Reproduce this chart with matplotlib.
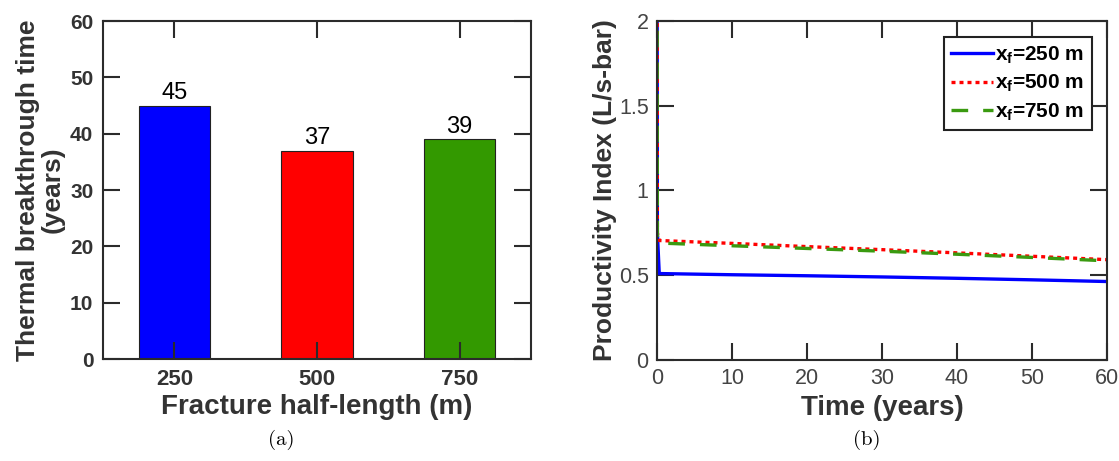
import matplotlib
matplotlib.use("Agg")
import matplotlib.pyplot as plt

plt.rcParams['mathtext.fontset'] = 'custom'
plt.rcParams['mathtext.it'] = 'Liberation Sans:bold'
plt.rcParams['mathtext.rm'] = 'Liberation Sans:bold'
plt.rcParams['mathtext.bf'] = 'Liberation Sans:bold'

# ---- data ----
categories = ['250', '500', '750']
breakthrough = [45, 37, 39]
bar_colors = ['#0000FF', '#FF0000', '#339900']

time = [0, 0.05, 0.3, 10, 20, 30, 40, 50, 60]
pi_250 = [3.0, 0.75, 0.51, 0.503, 0.497, 0.490, 0.482, 0.473, 0.463]
pi_500 = [3.0, 0.75, 0.705, 0.688, 0.669, 0.651, 0.632, 0.612, 0.592]
pi_750 = [3.0, 0.73, 0.690, 0.674, 0.658, 0.642, 0.624, 0.605, 0.585]
series_labels = [r'$x_f$=250 m', r'$x_f$=500 m', r'$x_f$=750 m']

fig = plt.figure(figsize=(11.19, 4.61), dpi=100)
spine_col = '#2b2b2b'
txt_col = '#333333'

# ---- (a) bar chart ----
ax1 = fig.add_axes([103/1119, 1-359/461, (531-103)/1119, (359-21)/461])
x = list(range(1, len(categories)+1))
ax1.bar(x, breakthrough, width=0.5, color=bar_colors, edgecolor='#222222', linewidth=0.8)
for xi, v in zip(x, breakthrough):
    ax1.text(xi, v + 0.3, str(v), ha='center', va='bottom', fontsize=17, family='Liberation Sans')
ax1.set_xlim(0.5, 3.5)
ax1.set_ylim(0, 60)
ax1.set_xticks(x)
ax1.set_xticklabels(categories)
ax1.set_yticks(range(0, 61, 10))
ax1.tick_params(direction='in', length=12, width=1.5, top=True, right=True, color=spine_col,
                labelsize=15, pad=7)
for lab in ax1.get_xticklabels():
    lab.set_fontsize(16)
for lab in ax1.get_xticklabels() + ax1.get_yticklabels():
    lab.set_fontweight('bold'); lab.set_family('Liberation Sans'); lab.set_color(txt_col)
for s in ax1.spines.values():
    s.set_linewidth(1.5); s.set_color(spine_col)
ax1.set_xlabel('Fracture half-length (m)', fontsize=20, fontweight='bold', family='Liberation Sans',
               color=txt_col, labelpad=3)
ax1.set_ylabel('Thermal breakthrough time\n(years)', fontsize=19, fontweight='bold',
               family='Liberation Sans', color=txt_col, linespacing=1.0, labelpad=4)

# ---- (b) line chart ----
ax2 = fig.add_axes([657/1119, 1-360/461, (1107-657)/1119, (360-21)/461])
ax2.plot(time, pi_250, color='#0000FF', lw=2.4, ls='-', label=series_labels[0])
ax2.plot(time, pi_500, color='#FF0000', lw=2.4, ls=(0, (1.2, 1.2)), label=series_labels[1])
ax2.plot(time, pi_750, color='#3a9a10', lw=2.4, ls=(0, (5, 4.5)), label=series_labels[2])
ax2.set_xlim(0, 60)
ax2.set_ylim(0, 2)
ax2.set_xticks(range(0, 61, 10))
ax2.set_yticks([0, 0.5, 1, 1.5, 2])
ax2.set_yticklabels(['0', '0.5', '1', '1.5', '2'])
ax2.tick_params(direction='in', length=12, width=1.5, top=True, right=True, color=spine_col,
                labelsize=15.5, pad=6, labelcolor='#444444')
for lab in ax2.get_xticklabels() + ax2.get_yticklabels():
    lab.set_family('Liberation Sans')
for s in ax2.spines.values():
    s.set_linewidth(1.5); s.set_color(spine_col)
ax2.set_xlabel('Time (years)', fontsize=20, fontweight='bold', family='Liberation Sans',
               color=txt_col, labelpad=4)
ax2.set_ylabel('Productivity Index (L/s-bar)', fontsize=19, fontweight='bold',
               family='Liberation Sans', color=txt_col, labelpad=1)
leg = ax2.legend(loc='upper right', bbox_to_anchor=(0.975, 0.965), frameon=True, fancybox=False,
                 prop={'family': 'Liberation Sans', 'weight': 'bold', 'size': 15},
                 handlelength=2.0, handletextpad=0.1, borderpad=0.35, labelspacing=0.35,
                 borderaxespad=0.2)
leg.get_frame().set_edgecolor('#222222')
leg.get_frame().set_linewidth(1.5)
leg.get_frame().set_alpha(1)

# ---- captions ----
fig.text(281/1119, 1-440/461, '(a)', ha='center', va='center', fontsize=15, family='cmr10')
fig.text(867/1119, 1-440/461, '(b)', ha='center', va='center', fontsize=15, family='cmr10')

fig.savefig('out.png', dpi=100)
